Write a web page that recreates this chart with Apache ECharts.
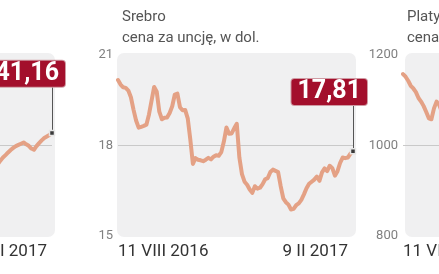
<!DOCTYPE html>
<html><head><meta charset="utf-8">
<script src="https://cdn.jsdelivr.net/npm/echarts@6/dist/echarts.min.js"></script>
<style>html,body{margin:0;padding:0;background:#fff}#c{width:439px;height:274px}</style>
</head><body><div id="c"></div>
<script>
const dates = [
"11 VIII 2016","13 VIII 2016","15 VIII 2016","17 VIII 2016","19 VIII 2016","21 VIII 2016","23 VIII 2016","25 VIII 2016","27 VIII 2016","29 VIII 2016","31 VIII 2016",
"2 IX 2016","4 IX 2016","6 IX 2016","8 IX 2016","10 IX 2016","12 IX 2016","14 IX 2016","16 IX 2016","18 IX 2016","20 IX 2016","22 IX 2016","24 IX 2016","26 IX 2016","28 IX 2016","30 IX 2016",
"2 X 2016","4 X 2016","6 X 2016","8 X 2016","10 X 2016","12 X 2016","14 X 2016","16 X 2016","18 X 2016","20 X 2016","22 X 2016","24 X 2016","26 X 2016","28 X 2016","30 X 2016",
"1 XI 2016","3 XI 2016","5 XI 2016","7 XI 2016","9 XI 2016","11 XI 2016","13 XI 2016","15 XI 2016","17 XI 2016","19 XI 2016","21 XI 2016","23 XI 2016","25 XI 2016","27 XI 2016","29 XI 2016",
"1 XII 2016","3 XII 2016","5 XII 2016","7 XII 2016","9 XII 2016","11 XII 2016","13 XII 2016","15 XII 2016","17 XII 2016","19 XII 2016","21 XII 2016","23 XII 2016","25 XII 2016","27 XII 2016","29 XII 2016","31 XII 2016",
"2 I 2017","4 I 2017","6 I 2017","8 I 2017","10 I 2017","12 I 2017","14 I 2017","16 I 2017","18 I 2017","20 I 2017","22 I 2017","24 I 2017","26 I 2017","28 I 2017","30 I 2017",
"1 II 2017","3 II 2017","5 II 2017","7 II 2017","9 II 2017"
];

const goldValues = [
1343,1338,1340,1347,1345,1341,1328,1325,1322,1318,1309,
1312,1327,1346,1340,1333,1327,1318,1310,1313,1316,1335,1337,1339,1330,1318,
1313,1280,1258,1254,1256,1258,1260,1262,1265,1266,1268,1270,1275,1278,1276,
1290,1298,1304,1280,1275,1250,1226,1222,1215,1209,1205,1190,1187,1185,1183,
1170,1172,1174,1175,1168,1162,1158,1150,1140,1132,1130,1134,1133,1134,1138,1150,
1160,1168,1177,1185,1192,1198,1202,1206,1210,1204,1199,1190,1186,1198,1208,
1217,1225,1230,1235,1241.16
];

const silverValues = [
20.17,20.02,19.93,19.91,19.82,19.6,19.19,18.83,18.59,18.62,18.65,
18.69,19.03,19.49,19.94,19.78,19.12,18.87,18.92,18.93,19.08,19.3,19.69,19.72,19.27,19.17,
19.18,18.9,18.2,17.39,17.58,17.53,17.51,17.48,17.53,17.59,17.54,17.63,17.68,17.66,17.78,
18.13,18.6,18.39,18.4,18.57,18.72,17.6,17.05,16.8,16.7,16.54,16.43,16.65,16.57,16.6,
16.72,16.88,16.92,17.12,17.2,17.16,17.12,16.65,16.25,16.12,16.04,15.88,15.9,16.02,16.08,16.2,
16.38,16.58,16.73,16.8,16.87,16.97,16.83,17.11,17.24,17.15,17.33,17.25,17.0,17.15,17.42,
17.6,17.58,17.6,17.73,17.81
];

const platinumValues = [
1158,1152,1143,1132,1126,1118,1105,1097,1087,1074,1060,
1058,1082,1097,1090,1075,1060,1045,1040,1050,1060,1045,1030,1025,1020,1025,
1010,985,960,950,945,935,930,935,945,950,960,965,975,980,990,
995,1000,1005,985,970,955,945,935,930,925,920,918,920,930,925,
920,925,930,935,930,925,920,910,905,900,905,910,908,905,903,905,
910,930,950,965,975,980,985,980,975,970,978,985,990,995,998,
1000,1005,1008,1010,1012
];

const goldTicks = [900, 1200, 1500];
const silverTicks = [15, 18, 21];
const platinumTicks = [800, 1000, 1200];

const titles = ["Złoto", "Srebro", "Platyna"];
const subtitle = "cena za uncję, w dol.";

const panels = [
  { title: titles[0], values: goldValues, ticks: goldTicks },
  { title: titles[1], values: silverValues, ticks: silverTicks },
  { title: titles[2], values: platinumValues, ticks: platinumTicks }
];

// layout (pixels)
const lefts = [-183, 118, 403];
const boxLefts = [-184, 117, 405];
const labelDx = [13, 14, 12];
const TOP = 55, H = 181, W = 235;

const last = dates.length - 1;
const fmt = v => v.toFixed(2).replace('.', ',');

const chart = echarts.init(document.getElementById('c'), null, { renderer: 'canvas' });

const series = [];
panels.forEach((p, i) => {
  series.push({
    type: 'line', xAxisIndex: i, yAxisIndex: i, data: p.values,
    showSymbol: false, symbol: 'none', silent: true, z: 3,
    lineStyle: { color: '#e4a185', width: 4, join: 'round', cap: 'round' }
  });
  const span = p.ticks[p.ticks.length - 1] - p.ticks[0];
  const v = p.values[last];
  series.push({
    type: 'scatter', xAxisIndex: i, yAxisIndex: i, silent: true, z: 6,
    data: [[dates[last], v]],
    symbol: 'rect', symbolSize: 5,
    itemStyle: { color: '#3a3a3a', borderColor: '#e6e6e6', borderWidth: 1.5, opacity: 1 },
    label: {
      show: true, position: 'top', distance: 43, align: 'right', offset: [labelDx[i], 0],
      formatter: () => fmt(v),
      backgroundColor: '#a30f2c', color: '#fff', fontFamily: 'Roboto', opacity: 1,
      fontSize: 25, fontWeight: 'bold', lineHeight: 22, padding: [2, 6, 2, 6],
      borderRadius: 3, borderColor: '#cf9aa3', borderWidth: 1
    },
    markLine: {
      silent: true, symbol: 'none', animation: false,
      label: { show: false },
      lineStyle: { color: '#555', width: 1, type: 'solid', opacity: 1 },
      emphasis: { disabled: true },
      data: [[{ coord: [dates[last], v] }, { coord: [dates[last], v + span * 47 / H] }]]
    }
  });
});

const option = {
  animation: false,
  backgroundColor: '#fff',
  textStyle: { fontFamily: 'Roboto' },
  title: panels.map((p, i) => ({
    text: p.title + '\n' + subtitle,
    left: lefts[i] - 1, top: 2,
    textStyle: { fontSize: 15, fontWeight: 'normal', color: '#555', lineHeight: 21, fontFamily: 'Roboto' }
  })),
  graphic: boxLefts.map(x => ({
    type: 'rect', silent: true, z: -100,
    shape: { x: x, y: 53, width: 239, height: 184, r: 7 },
    style: { fill: '#f0f0f1' }
  })),
  grid: lefts.map(l => ({ left: l, top: TOP, width: W, height: H, outerBoundsMode: 'none', containLabel: false })),
  xAxis: panels.map((p, i) => ({
    type: 'category', gridIndex: i, data: dates, boundaryGap: false,
    axisLine: { show: false }, axisTick: { show: false }, splitLine: { show: false },
    axisLabel: {
      interval: (idx) => idx === 0 || idx === last,
      showMinLabel: true, showMaxLabel: true,
      alignMinLabel: 'left', alignMaxLabel: 'right',
      color: '#333', fontSize: 17, margin: 7, padding: [0, 5, 0, 0], fontFamily: 'Roboto'
    }
  })),
  yAxis: panels.map((p, i) => ({
    type: 'value', gridIndex: i,
    min: p.ticks[0], max: p.ticks[p.ticks.length - 1], interval: p.ticks[1] - p.ticks[0],
    axisLine: { show: false }, axisTick: { show: false },
    axisLabel: { color: '#808080', fontSize: 13, margin: 5, fontFamily: 'Roboto', formatter: (val) => String(val) },
    splitLine: { show: true, lineStyle: { color: ['rgba(0,0,0,0)', '#c9c9c9', 'rgba(0,0,0,0)'], width: 1 } }
  })),
  series: series
};
chart.setOption(option);
</script>
</body></html>
